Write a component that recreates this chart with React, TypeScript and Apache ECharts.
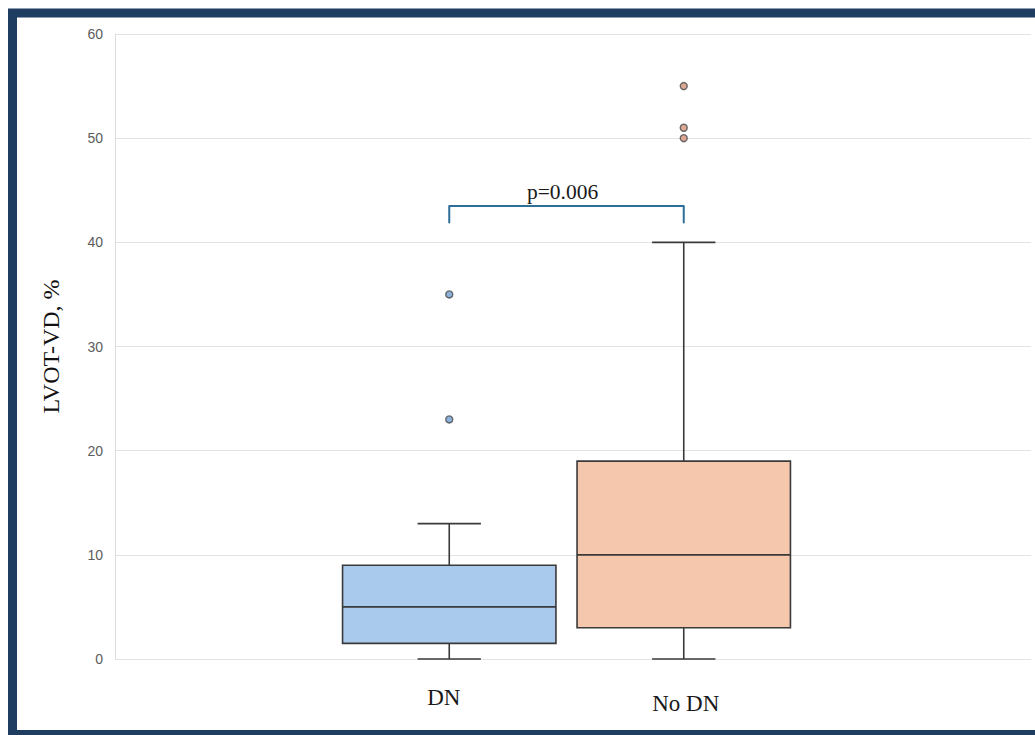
import React, { useEffect, useRef } from "react";
import * as echarts from "echarts";

// Groups on the category axis
const categories = ["DN", "No DN"];
// Five-number summaries: [min, Q1, median, Q3, max]
const dnSummary = [0, 1.5, 5, 9, 13];
const noDnSummary = [0, 3, 10, 19, 40];
// Points beyond the whiskers
const dnOutliers = [35, 23];
const noDnOutliers = [55, 51, 50];
// Significance bracket
const bracketTop = 43.5;
const bracketFoot = 41.9;
const pLabel = "p=0.006";
// Y-axis range and step
const yMin = 0;
const yMax = 60;
const yStep = 10;

const boxFills = ["#a9caed", "#f5c7ad"];
const outlierFills = ["#6f9fd2", "#d4937a"];
const SERIF = "'Liberation Serif', 'Times New Roman', serif";
const SANS = "'Liberation Sans', Arial, sans-serif";

export default function App() {
  const ref = useRef<HTMLDivElement>(null);

  useEffect(() => {
    document.body.style.margin = "0";
    if (!ref.current) return;
    const chart = echarts.init(ref.current, null, { renderer: "svg" });

    const summaries = [dnSummary, noDnSummary];
    const boxData = summaries.map((s, i) => [i, ...s]);

    const option: any = {
      animation: false,
      backgroundColor: "#ffffff",
      grid: [
        { left: 115, right: 4, top: 34, bottom: 76 },
        { left: 332, width: 469, top: 34, bottom: 76 },
      ],
      xAxis: [
        { type: "value", gridIndex: 0, show: false, min: 0, max: 1 },
        {
          type: "category",
          gridIndex: 1,
          data: categories,
          axisLine: { show: false },
          axisTick: { show: false },
          axisLabel: {
            margin: 27,
            formatter: (v: string) => (v === "DN" ? "{a|" + v + "}" : "{b|" + v + "}"),
            rich: {
              a: { fontFamily: SERIF, fontSize: 23, color: "#1a1a1a", padding: [0, 11, 0, 0] },
              b: { fontFamily: SERIF, fontSize: 23, color: "#1a1a1a", padding: [6, 0, 0, 4] },
            },
          },
        },
      ],
      yAxis: [
        {
          type: "value",
          gridIndex: 0,
          min: yMin,
          max: yMax,
          interval: yStep,
          axisLine: { show: true, lineStyle: { color: "#dcdcdc", width: 1 } },
          axisTick: { show: false },
          splitLine: { lineStyle: { color: "#e3e3e3", width: 1.2 } },
          axisLabel: { color: "#5c5c5c", fontSize: 14, fontFamily: SANS, margin: 12 },
          name: "LVOT-VD, %",
          nameLocation: "middle",
          nameGap: 52,
          nameTextStyle: { fontFamily: SERIF, fontSize: 24, color: "#111111" },
        },
        { type: "value", gridIndex: 1, min: yMin, max: yMax, show: false },
      ],
      series: [
        {
          type: "custom",
          xAxisIndex: 1,
          yAxisIndex: 1,
          data: boxData,
          encode: { x: 0, y: [1, 2, 3, 4, 5] },
          renderItem: (params: any, api: any) => {
            const cat = api.value(0);
            const band = api.size([1, 0])[0];
            const half = (band * 0.91) / 2;
            const capHalf = (band * 0.27) / 2;
            const p = [1, 2, 3, 4, 5].map((d) => api.coord([cat, api.value(d)]));
            const cx = p[0][0];
            const stroke = { stroke: "#3a3a3a", lineWidth: 1.6, fill: "none" };
            return {
              type: "group",
              children: [
                { type: "line", shape: { x1: cx, y1: p[0][1], x2: cx, y2: p[1][1] }, style: stroke },
                { type: "line", shape: { x1: cx, y1: p[3][1], x2: cx, y2: p[4][1] }, style: stroke },
                { type: "line", shape: { x1: cx - capHalf, y1: p[0][1], x2: cx + capHalf, y2: p[0][1] }, style: stroke },
                { type: "line", shape: { x1: cx - capHalf, y1: p[4][1], x2: cx + capHalf, y2: p[4][1] }, style: stroke },
                {
                  type: "rect",
                  shape: { x: cx - half, y: p[3][1], width: half * 2, height: p[1][1] - p[3][1] },
                  style: { fill: boxFills[params.dataIndex], stroke: "#3a3a3a", lineWidth: 1.6 },
                },
                { type: "line", shape: { x1: cx - half, y1: p[2][1], x2: cx + half, y2: p[2][1] }, style: stroke },
              ],
            };
          },
        },
        {
          type: "scatter",
          xAxisIndex: 1,
          yAxisIndex: 1,
          symbol: "circle",
          symbolSize: 7,
          data: dnOutliers.map((v) => [0, v]),
          itemStyle: { color: outlierFills[0], borderColor: "#4a4a4a", borderWidth: 1.4 },
        },
        {
          type: "scatter",
          xAxisIndex: 1,
          yAxisIndex: 1,
          symbol: "circle",
          symbolSize: 7,
          data: noDnOutliers.map((v) => [1, v]),
          itemStyle: { color: outlierFills[1], borderColor: "#4a4a4a", borderWidth: 1.4 },
        },
        {
          type: "line",
          xAxisIndex: 1,
          yAxisIndex: 1,
          symbol: "none",
          data: [
            [0, bracketFoot],
            [0, bracketTop],
            [1, bracketTop],
            [1, bracketFoot],
          ],
          lineStyle: { color: "#2f6e99", width: 2, cap: "round", join: "round" },
          silent: true,
        },
      ],
    };
    chart.setOption(option);

    // p-value label centred above the bracket, plus the navy frame
    const left = chart.convertToPixel({ gridIndex: 1 }, [0, bracketTop]) as number[];
    const right = chart.convertToPixel({ gridIndex: 1 }, [1, bracketTop]) as number[];
    chart.setOption({
      graphic: [
        {
          type: "text",
          x: (left[0] + right[0]) / 2 - 4,
          y: left[1] - 3,
          style: {
            text: pLabel,
            fontFamily: SERIF,
            fontSize: 21.5,
            fill: "#1a1a1a",
            align: "center",
            verticalAlign: "bottom",
          },
        },
        {
          type: "rect",
          shape: { x: 12.5, y: 13, width: 1040, height: 721.5 },
          style: { fill: "none", stroke: "#1e3d60", lineWidth: 9 },
          silent: true,
        },
      ],
    });

    return () => chart.dispose();
  }, []);

  return <div ref={ref} style={{ width: 1035, height: 735 }} />;
}
